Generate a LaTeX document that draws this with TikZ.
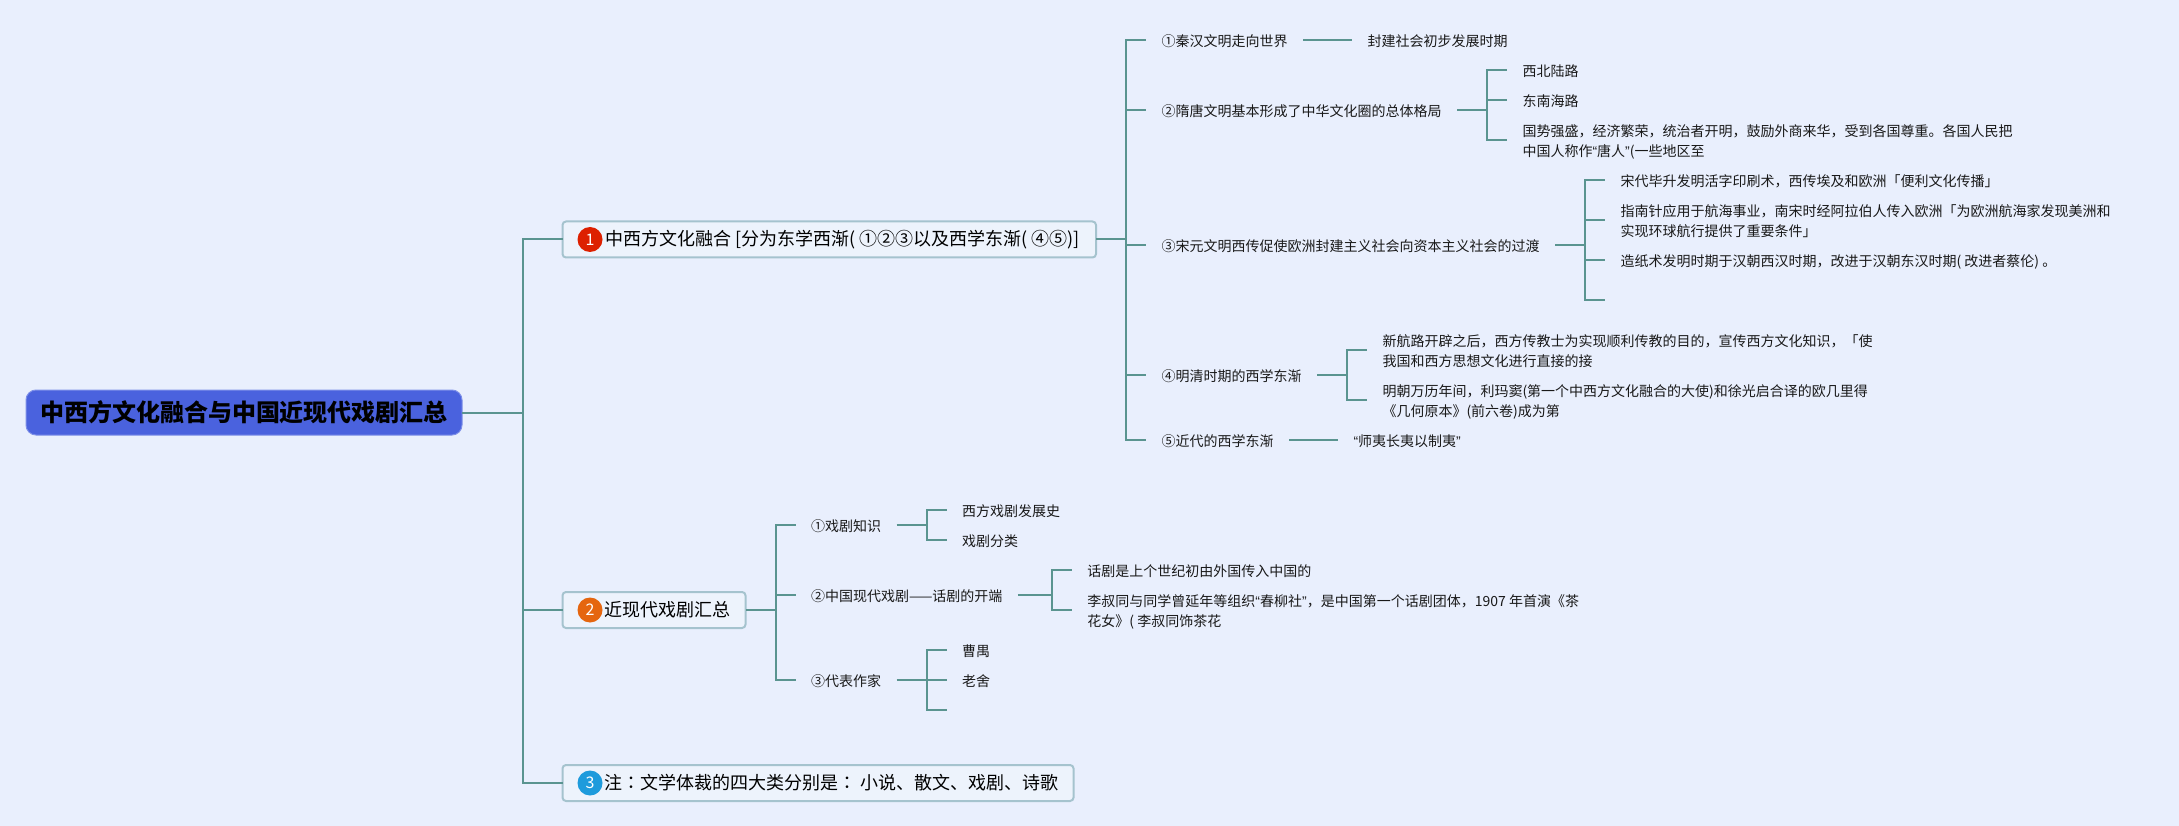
\documentclass[tikz,border=0pt]{standalone}
\usepackage{fontspec}
\setmainfont{Noto Sans CJK SC}
\newfontfamily\quotefont{Liberation Sans}
\newfontfamily\colonfont{Noto Sans CJK TC}
\newcommand{\qtxt}[1]{{\quotefont “}#1{\quotefont ”}}
\usetikzlibrary{positioning}
\definecolor{pageFill}{HTML}{E9EFFD}
\definecolor{rootFill}{HTML}{4A62DE}
\definecolor{rootEdge}{HTML}{7D8FE8}
\definecolor{boxFill}{HTML}{EDF3FC}
\definecolor{boxEdge}{HTML}{A5C3CE}
\definecolor{linkEdge}{HTML}{5A9490}
\definecolor{badgeRed}{HTML}{DD2000}
\definecolor{badgeOrange}{HTML}{E5660F}
\definecolor{badgeBlue}{HTML}{1E9BDC}
\begin{document}
\begin{tikzpicture}[
    x=1pt, y=1pt, outer sep=0pt,
    root/.style={rounded corners=10pt, draw=rootEdge, fill=rootFill, line width=1pt,
      minimum width=436pt, minimum height=45pt, inner sep=0pt, text=black,
      font=\fontsize{24}{28}\selectfont\bfseries},
    branch/.style={rounded corners=3.5pt, draw=boxEdge, fill=boxFill, line width=2pt,
      minimum height=36pt, inner xsep=15pt, inner ysep=0pt, text=black,
      font=\fontsize{18}{22}\selectfont},
    badge/.style={circle, minimum size=25pt, inner sep=0pt, text=white,
      font=\fontsize{16}{18}\selectfont},
    leaf/.style={inner xsep=15.5pt, inner ysep=0pt, align=left, text=black!90,
      text height=13.5pt, text depth=0pt, font=\fontsize{14}{20}\selectfont},
    twoline/.style={text height=33.5pt},
    link/.style={draw=linkEdge, line width=2pt},
  ]
\fill[pageFill] (0,0) rectangle (2179,-826);

% ===== root =====
\node[root] (root) at (244,-412.5) {中西方文化融合与中国近现代戏剧汇总};
\coordinate[right=61pt of root.east] (rootBus);

\node[branch, minimum width=533.5pt, right=39.5pt of rootBus, yshift=173pt] (aBox)
  {\hspace*{27pt}中西方文化融合 [分为东学西渐( ①②③以及西学东渐( ④⑤)]};
\node[branch, right=39.5pt of rootBus, yshift=-197.5pt] (bBox)
  {\hspace*{27pt}近现代戏剧汇总};
\node[branch, right=39.5pt of rootBus, yshift=-370.5pt] (cBox)
  {\hspace*{27pt}注{\colonfont ：}文学体裁的四大类分别是{\colonfont ：} 小说、散文、戏剧、诗歌};
\node[badge, fill=badgeRed, right=15pt of aBox.west] (aBadge) {1};
\node[badge, fill=badgeOrange, right=15pt of bBox.west] (bBadge) {2};
\node[badge, fill=badgeBlue, right=15pt of cBox.west] (cBadge) {3};

\draw[link] (root.east) -- (rootBus);
\draw[link] (rootBus) |- (aBox.west);
\draw[link] (rootBus) |- (bBox.west);
\draw[link] (rootBus) |- (cBox.west);

% ===== branch a =====
\coordinate[right=30pt of aBox.east] (aBus);
\node[leaf, right=20pt of aBus, yshift=199.5pt] (aOne) {①秦汉文明走向世界};
\node[leaf, right=20pt of aBus, yshift=129.5pt] (aTwo) {②隋唐文明基本形成了中华文化圈的总体格局};
\node[leaf, right=20pt of aBus, yshift=-5.5pt] (aThree) {③宋元文明西传促使欧洲封建主义社会向资本主义社会的过渡};
\node[leaf, right=20pt of aBus, yshift=-135.5pt] (aFour) {④明清时期的西学东渐};
\node[leaf, right=20pt of aBus, yshift=-200.5pt] (aFive) {⑤近代的西学东渐};

\draw[link] (aBox.east) -- (aBus);
\foreach \n in {aOne,aTwo,aThree,aFour,aFive}
  \draw[link] (aBus) |- (\n.west);

% a1
\node[leaf, right=49pt of aOne] (aOneLeaf) {封建社会初步发展时期};
\draw[link] (aOne) -- (aOneLeaf);

% a2
\coordinate[right=30pt of aTwo] (aTwoBus);
\node[leaf, right=20pt of aTwoBus, yshift=40pt] (aTwoA) {西北陆路};
\node[leaf, right=20pt of aTwoBus, yshift=10pt] (aTwoB) {东南海路};
\node[leaf, twoline, right=20pt of aTwoBus, yshift=-30pt] (aTwoC)
  {国势强盛，经济繁荣，统治者开明，鼓励外商来华，受到各国尊重。各国人民把\\中国人称作\qtxt{唐人}(一些地区至};
\draw[link] (aTwo) -- (aTwoBus);
\foreach \n in {aTwoA,aTwoB,aTwoC}
  \draw[link] (aTwoBus) |- (\n.west);

% a3
\coordinate[right=30pt of aThree] (aThreeBus);
\node[leaf, right=20pt of aThreeBus, yshift=65pt] (aThreeA) {宋代毕升发明活字印刷术，西传埃及和欧洲「便利文化传播」};
\node[leaf, twoline, right=20pt of aThreeBus, yshift=25pt] (aThreeB)
  {指南针应用于航海事业，南宋时经阿拉伯人传入欧洲「为欧洲航海家发现美洲和\\实现环球航行提供了重要条件」};
\node[leaf, right=20pt of aThreeBus, yshift=-15pt] (aThreeC) {造纸术发明时期于汉朝西汉时期，改进于汉朝东汉时期( 改进者蔡伦) 。};
\coordinate[right=20pt of aThreeBus, yshift=-55pt] (aThreeD);
\draw[link] (aThree) -- (aThreeBus);
\foreach \n in {aThreeA,aThreeB,aThreeC}
  \draw[link] (aThreeBus) |- (\n.west);
\draw[link] (aThreeBus) |- (aThreeD);

% a4
\coordinate[right=30pt of aFour] (aFourBus);
\node[leaf, twoline, right=20pt of aFourBus, yshift=25pt] (aFourA)
  {新航路开辟之后，西方传教士为实现顺利传教的目的，宣传西方文化知识，「使\\我国和西方思想文化进行直接的接};
\node[leaf, twoline, right=20pt of aFourBus, yshift=-25pt] (aFourB)
  {明朝万历年间，利玛窦(第一个中西方文化融合的大使)和徐光启合译的欧几里得\\《几何原本》(前六卷)成为第};
\draw[link] (aFour) -- (aFourBus);
\foreach \n in {aFourA,aFourB}
  \draw[link] (aFourBus) |- (\n.west);

% a5
\node[leaf, right=49pt of aFive] (aFiveLeaf) {\qtxt{师夷长夷以制夷}};
\draw[link] (aFive) -- (aFiveLeaf);

% ===== branch b =====
\coordinate[right=30pt of bBox.east] (bBus);
\node[leaf, right=20pt of bBus, yshift=85pt] (bOne) {①戏剧知识};
\node[leaf, right=20pt of bBus, yshift=15pt] (bTwo) {②中国现代戏剧——话剧的开端};
\node[leaf, right=20pt of bBus, yshift=-70pt] (bThree) {③代表作家};
\draw[link] (bBox.east) -- (bBus);
\foreach \n in {bOne,bTwo,bThree}
  \draw[link] (bBus) |- (\n.west);

% b1
\coordinate[right=30pt of bOne] (bOneBus);
\node[leaf, right=20pt of bOneBus, yshift=15pt] (bOneA) {西方戏剧发展史};
\node[leaf, right=20pt of bOneBus, yshift=-15pt] (bOneB) {戏剧分类};
\draw[link] (bOne) -- (bOneBus);
\draw[link] (bOneBus) |- (bOneA.west);
\draw[link] (bOneBus) |- (bOneB.west);

% b2
\coordinate[right=34pt of bTwo] (bTwoBus);
\node[leaf, right=20pt of bTwoBus, yshift=25pt] (bTwoA) {话剧是上个世纪初由外国传入中国的};
\node[leaf, twoline, right=20pt of bTwoBus, yshift=-15pt] (bTwoB)
  {李叔同与同学曾延年等组织\qtxt{春柳社}，是中国第一个话剧团体，1907 年首演《茶\\花女》( 李叔同饰茶花};
\draw[link] (bTwo) -- (bTwoBus);
\draw[link] (bTwoBus) |- (bTwoA.west);
\draw[link] (bTwoBus) |- (bTwoB.west);

% b3
\coordinate[right=30pt of bThree] (bThreeBus);
\node[leaf, right=20pt of bThreeBus, yshift=30pt] (bThreeA) {曹禺};
\node[leaf, right=20pt of bThreeBus] (bThreeB) {老舍};
\coordinate[right=20pt of bThreeBus, yshift=-30pt] (bThreeC);
\draw[link] (bThree) -- (bThreeBus);
\draw[link] (bThreeBus) |- (bThreeA.west);
\draw[link] (bThreeBus) -- (bThreeB.west);
\draw[link] (bThreeBus) |- (bThreeC);

\end{tikzpicture}
\end{document}
